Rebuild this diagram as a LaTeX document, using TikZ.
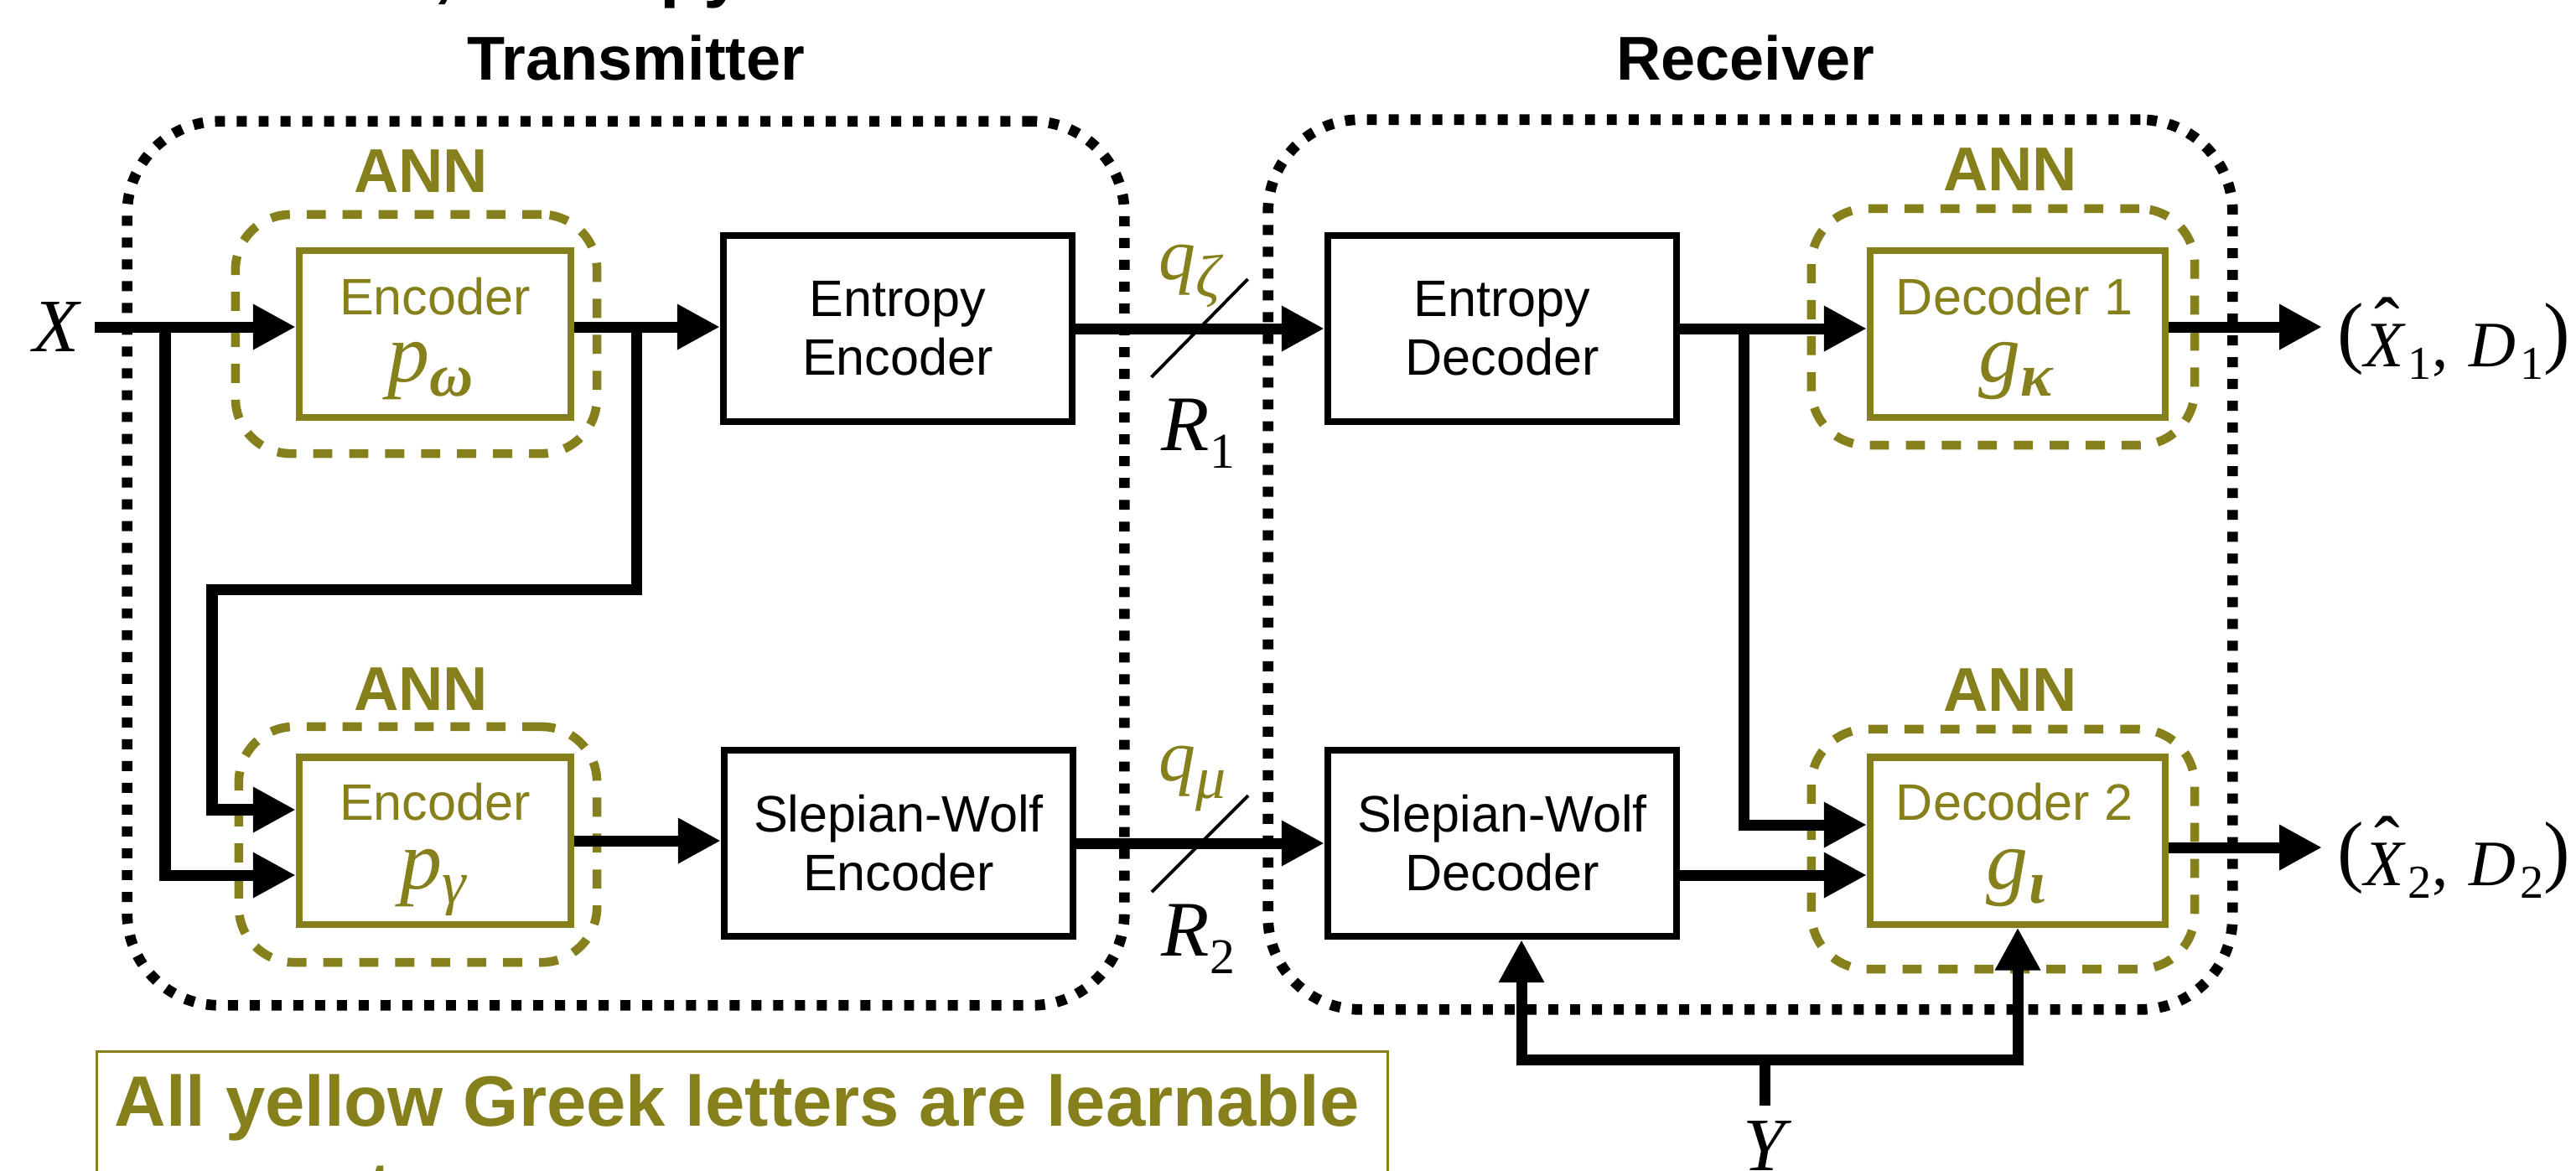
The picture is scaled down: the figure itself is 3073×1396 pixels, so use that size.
\documentclass[tikz,border=0pt]{standalone}
\usepackage[no-math]{fontspec}
\setmainfont{Liberation Sans}
\newfontfamily\tms{Liberation Serif}
\usetikzlibrary{arrows.meta}
\definecolor{annc}{RGB}{134,128,28}
\newcommand\boxfont{\fontsize{17.4pt}{19.9pt}\selectfont}
\newcommand\titlefont{\fontsize{21pt}{25pt}\selectfont\bfseries}
\newcommand\varfnt{\tms\itshape\fontsize{25.6pt}{27pt}\selectfont}
\newcommand\pfnt{\tms\itshape\fontsize{28.5pt}{30pt}\selectfont}
\newcommand\gsubb[1]{\raisebox{-5.1pt}{\fontsize{20.5pt}{21pt}\selectfont\bfseries #1}}
\newcommand\gsubn[1]{\raisebox{-5.1pt}{\fontsize{20.5pt}{21pt}\selectfont #1}}
\newcommand\qfnt{\tms\itshape\fontsize{25pt}{26pt}\selectfont}
\newcommand\qsub[1]{\raisebox{-6pt}{\fontsize{20.5pt}{21pt}\selectfont #1}}
\newcommand\rfnt{\tms\itshape\fontsize{26.7pt}{28pt}\selectfont}
\newcommand\rsub[1]{\raisebox{-6pt}{\upshape\fontsize{17pt}{18pt}\selectfont #1}}
\newcommand\xhatsym{{\itshape X}\llap{\raisebox{0.24em}{\upshape\fontsize{26pt}{27pt}\selectfont\char"02C6}\kern0.06em}}
\newcommand\outlab[1]{\tms\fontsize{22pt}{23pt}\selectfont
 \raisebox{2.8pt}{\fontsize{27pt}{28pt}\selectfont(}\xhatsym\kern1.5pt\raisebox{-4.3pt}{\fontsize{16pt}{17pt}\selectfont #1},\kern7pt{\itshape D}\kern1.5pt\raisebox{-4.3pt}{\fontsize{16pt}{17pt}\selectfont #1}\raisebox{2.8pt}{\fontsize{27pt}{28pt}\selectfont)}}
\newcommand\notefnt{\fontsize{24.2pt}{29pt}\selectfont\bfseries}

\tikzset{
  conn/.style={line width=3.7pt},
  arr/.style={conn,-{Triangle[length=14.5pt,width=14.5pt]}},
  slash/.style={line width=1.1pt},
  blk/.style={draw,line width=2.3pt,minimum width=4.16cm,minimum height=2.22cm,inner sep=0pt,align=center,font=\boxfont},
  obox/.style={draw=annc,line width=2.3pt,minimum width=3.24cm,minimum height=1.99cm,inner sep=0pt},
  dbox/.style={obox,minimum width=3.52cm},
  ann/.style={draw=annc,line width=3pt,dash pattern=on 6.5pt off 5.7pt,rounded corners=0.66cm,inner sep=0pt},
  cont/.style={draw,line width=3.6pt,dash pattern=on 3.4pt off 4pt,rounded corners=1.1cm,inner sep=0pt},
  otext/.style={text=annc,font=\boxfont,inner sep=0pt,anchor=base},
  annlab/.style={text=annc,font=\titlefont,inner sep=0pt},
}

\begin{document}
\begin{tikzpicture}[x=0.01cm,y=-0.01cm]
\useasboundingbox (0,0) rectangle (3073,1396);
\fill[white] (0,0) rectangle (3073,1396);
\clip (0,0) rectangle (3073,1396);

% cut-off line above
\node[anchor=base west,inner sep=0pt,font=\notefnt] (toptext) at (517,-8) {, Entropy};

% containers
\node[cont,minimum width=11.89cm,minimum height=10.54cm] (tx) at (746.5,672) {};
\node[cont,minimum width=11.50cm,minimum height=10.61cm] (rx) at (2088,673.5) {};
\node[font=\titlefont,inner sep=0pt] (txt) at (759,69) {Transmitter};
\node[font=\titlefont,inner sep=0pt] (rxt) at (2082,69) {Receiver};

% ANN dashed groups
\node[ann,minimum width=4.31cm,minimum height=2.85cm] (ann1) at (496.5,398.5) {};
\node[ann,minimum width=4.27cm,minimum height=2.81cm] (ann2) at (498.5,1007.5) {};
\node[ann,minimum width=4.57cm,minimum height=2.82cm] (ann3) at (2389.5,390) {};
\node[ann,minimum width=4.57cm,minimum height=2.86cm] (ann4) at (2389.5,1013) {};
\node[annlab] (ann1l) at (502,204) {ANN};
\node[annlab] (ann2l) at (502,822) {ANN};
\node[annlab] (ann3l) at (2398,202) {ANN};
\node[annlab] (ann4l) at (2398,823) {ANN};

% olive blocks
\node[obox] (enc1) at (519,398.5) {};
\node[obox] (enc2) at (519,1003) {};
\node[dbox] (dec1) at (2407,398.5) {};
\node[dbox] (dec2) at (2407,1003) {};
\node[otext] (enc1t) at (519,375) {Encoder};
\node[otext] (enc2t) at (519,978) {Encoder};
\node[otext] (dec1t) at (2403,375) {Decoder 1};
\node[otext] (dec2t) at (2403,978) {Decoder 2};
\node[anchor=base,inner sep=0pt,text=annc,font=\pfnt] (enc1p) at (514,455) {p\gsubb{ω}};
\node[anchor=base,inner sep=0pt,text=annc,font=\pfnt] (enc2p) at (517,1060) {p\gsubn{γ}};
\node[anchor=base,inner sep=0pt,text=annc,font=\pfnt] (dec1g) at (2405,455) {g\gsubb{κ}};
\node[anchor=base,inner sep=0pt,text=annc,font=\pfnt] (dec2g) at (2405,1060) {g\gsubb{ι}};

% black blocks
\node[blk] (eenc) at (1071,392) {Entropy\\Encoder};
\node[blk] (swenc) at (1072,1006) {Slepian-Wolf\\Encoder};
\node[blk] (edec) at (1792,392) {Entropy\\Decoder};
\node[blk] (swdec) at (1792,1006) {Slepian-Wolf\\Decoder};

% labels
\node[font=\varfnt,inner sep=0.18cm] (xlab) at (67,390) {X};
\node[font=\varfnt,inner sep=0.18cm] (ylab) at (2105,1367) {Y};
\node[anchor=base west,inner sep=0pt,text=annc,font=\qfnt] (q1) at (1382,333) {q\qsub{ζ}};
\node[anchor=base west,inner sep=0pt,text=annc,font=\qfnt] (q2) at (1382,931) {q\qsub{μ}};
\node[anchor=base west,inner sep=0pt,font=\rfnt] (r1) at (1385,537) {R\rsub{1}};
\node[anchor=base west,inner sep=0pt,font=\rfnt] (r2) at (1385,1140) {R\rsub{2}};
\node[anchor=west,inner xsep=0.18cm,inner ysep=0pt] (out1) at (2770,404) {\outlab{1}};
\node[anchor=west,inner xsep=0.18cm,inner ysep=0pt] (out2) at (2770,1023) {\outlab{2}};

% transmitter connectors
\coordinate (j0) at (197,390);
\coordinate (j1) at (759,390);
\coordinate (k1) at (253,703);
\draw[arr] (xlab.east) -- (xlab.east -| enc1.west);
\draw[arr] (j0) |- ([yshift=-0.41cm]enc2.west);
\draw[arr] (enc1.east |- xlab) -- (eenc.west |- xlab);
\draw[arr] (j1) |- (k1) |- ([yshift=0.37cm]enc2.west);
\draw[arr] (enc2.east) -- (enc2.east -| swenc.west);

% channel
\draw[arr] (eenc.east) -- coordinate[pos=0.5] (m1) (edec.west);
\draw[arr] (swenc.east) -- coordinate[pos=0.5] (m2) (swdec.west);
\draw[slash] ([shift={(57,-59)}]m1) -- ([shift={(-58,58)}]m1);
\draw[slash] ([shift={(57,-57)}]m2) -- ([shift={(-58,58)}]m2);

% receiver connectors
\coordinate (j2) at (2080,392);
\coordinate (d2in) at ([yshift=-0.41cm]dec2.west);
\coordinate (d2out) at ([yshift=-0.08cm]dec2.east);
\draw[arr] (edec.east) -- (edec.east -| dec1.west);
\draw[arr] (j2) |- ([yshift=0.19cm]dec2.west);
\draw[arr] (swdec.east |- d2in) -- (d2in);
\draw[arr] (dec1.east |- xlab) -- (out1.west |- xlab);
\draw[arr] (d2out) -- (d2out -| out2.west);

% side information Y
\coordinate (yj) at (2105,1264);
\coordinate (swin) at ([xshift=0.23cm]swdec.south);
\draw[conn] (ylab.north) -- (yj);
\draw[arr] (yj) -| (swin);
\draw[arr] (yj) -| (dec2.south);

% note box
\node[draw=annc,line width=0.8pt,minimum width=15.39cm,minimum height=2.6cm,anchor=north west,inner sep=0pt] (note) at (114,1253) {};
\node[anchor=base west,inner sep=0pt,text=annc,font=\notefnt] (note1) at (136,1343) {All yellow Greek letters are learnable};
\node[anchor=base west,inner sep=0pt,text=annc,font=\notefnt] (note2) at (136,1446) {parameters};
\end{tikzpicture}
\end{document}
